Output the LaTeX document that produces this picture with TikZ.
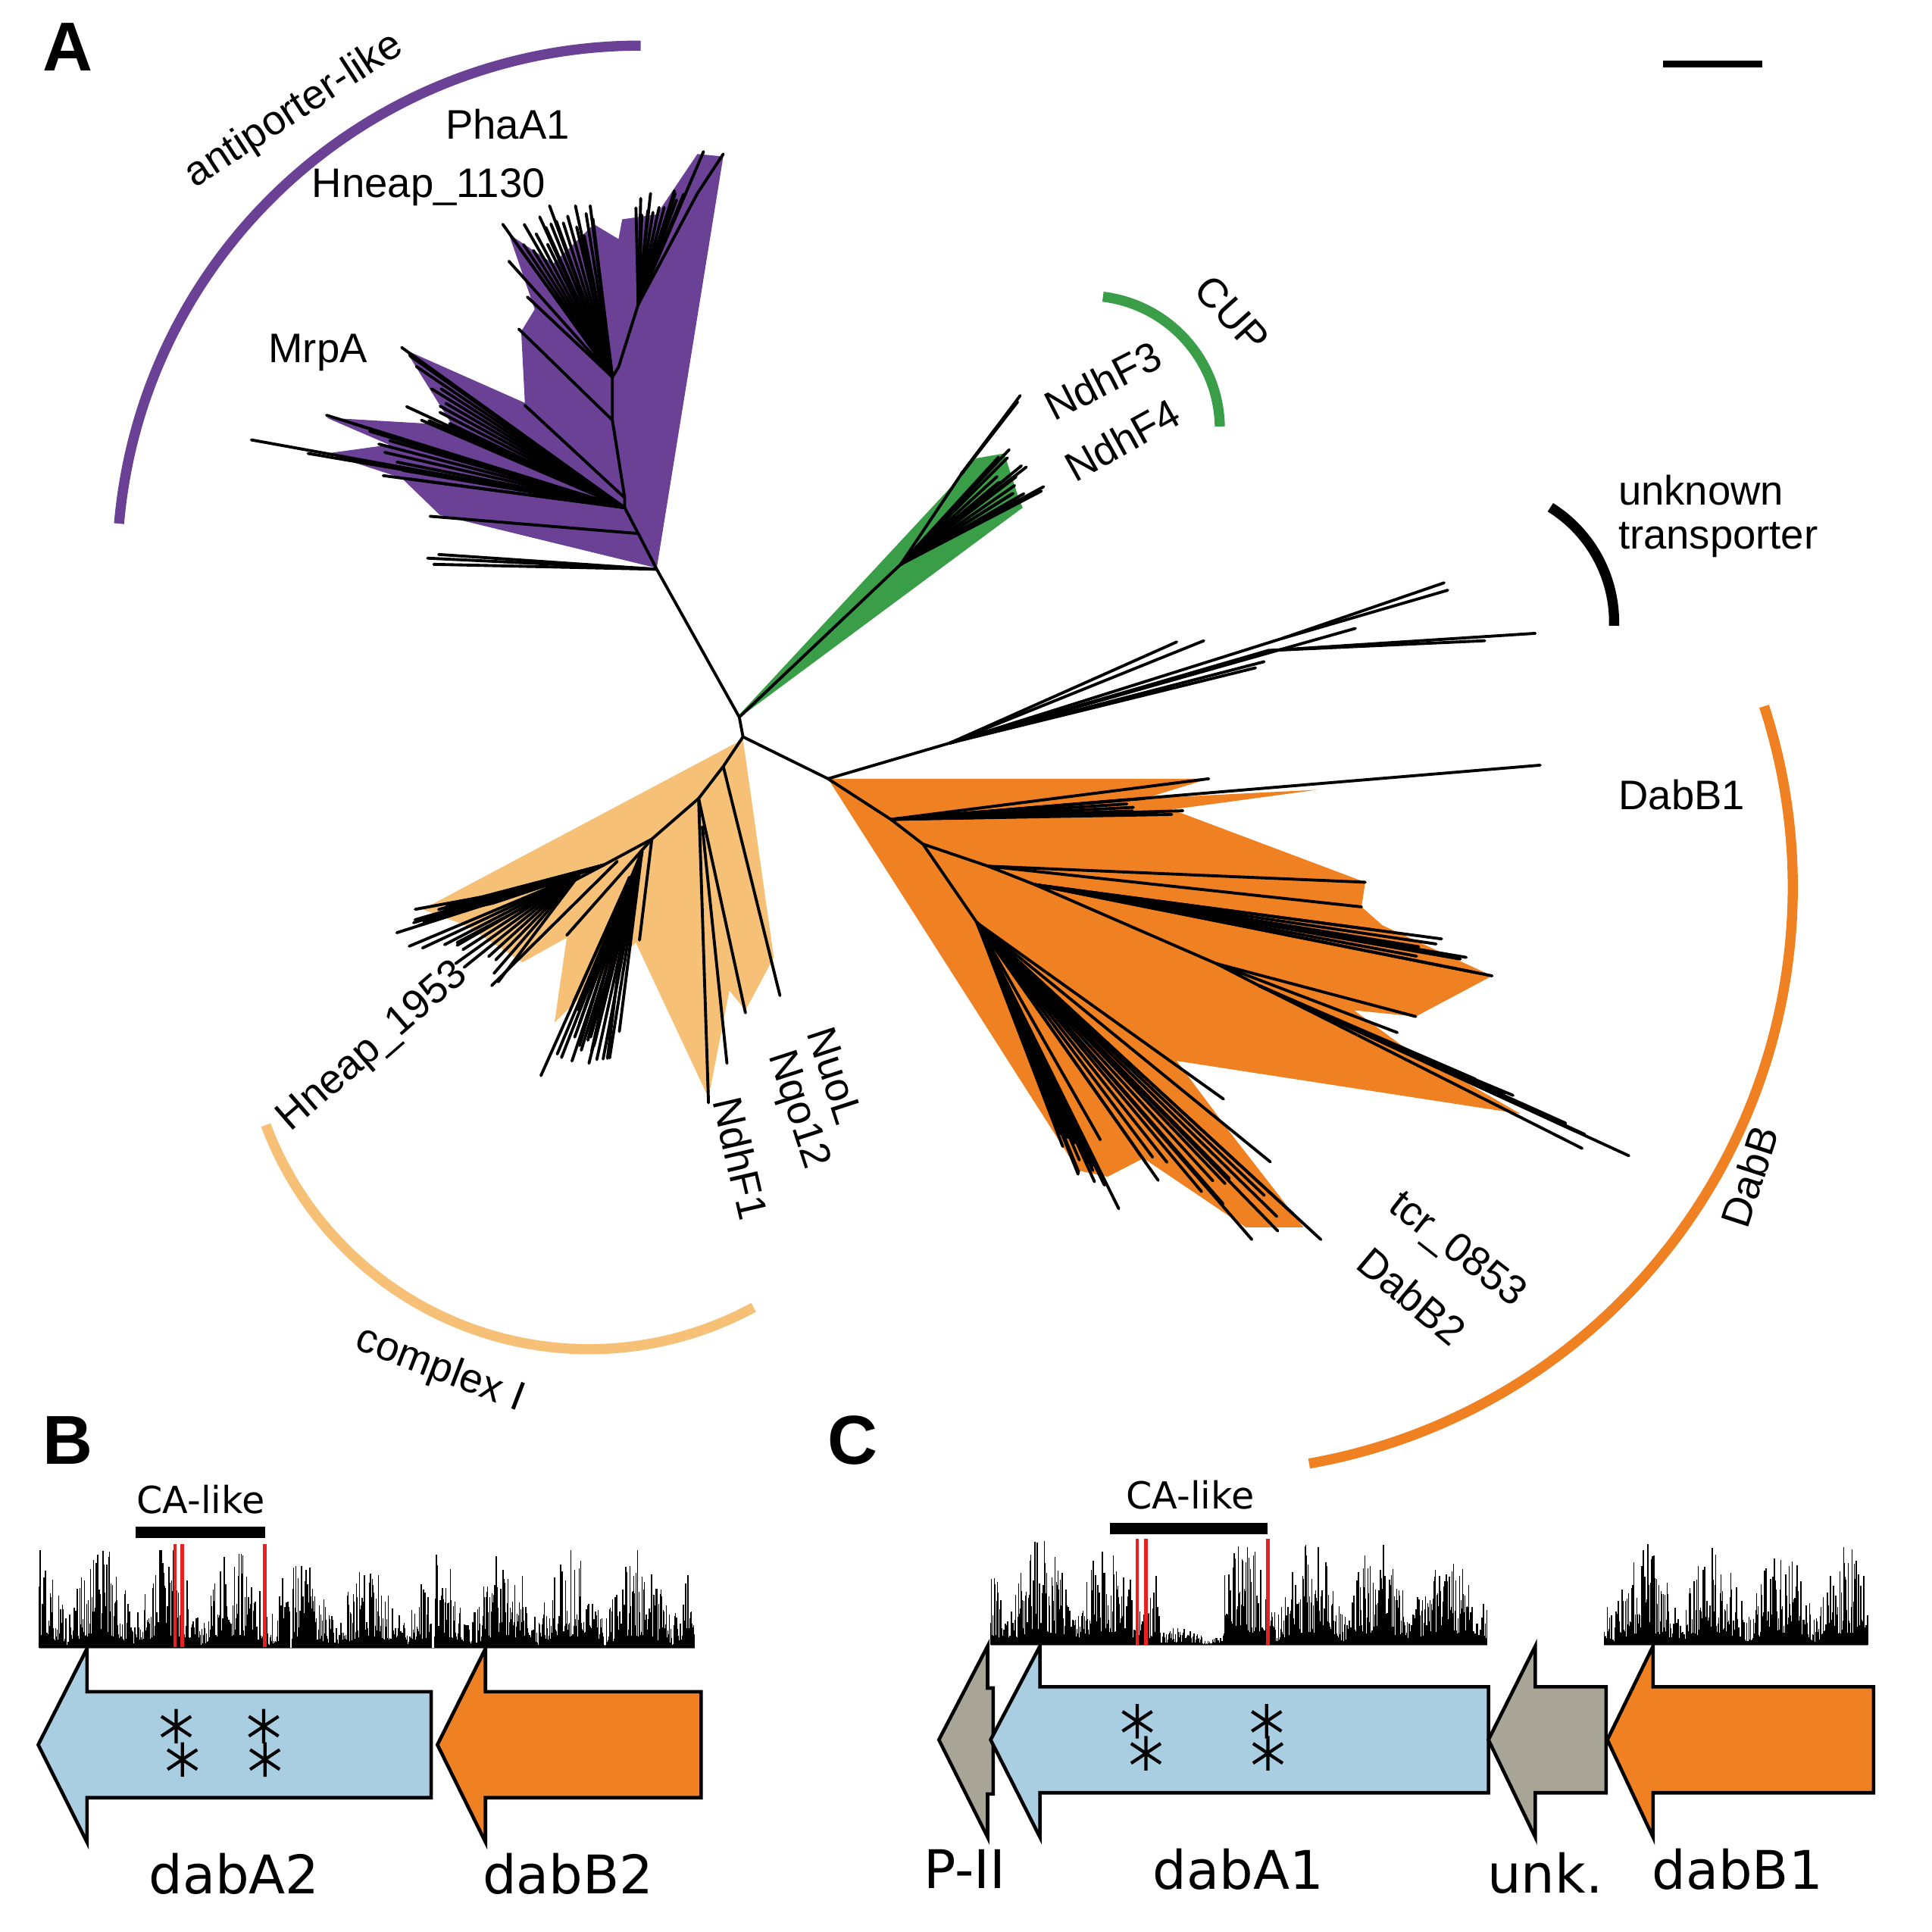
\documentclass[tikz,border=0pt]{standalone}
\usepackage{fontspec}
\setmainfont{Liberation Sans}
\newfontfamily\dvfont{DejaVu Sans}
\usetikzlibrary{calc}
\definecolor{cpurple}{RGB}{107,65,150}
\definecolor{cgreen}{RGB}{58,157,72}
\definecolor{cbeige}{RGB}{246,193,119}
\definecolor{corange}{RGB}{240,129,35}
\definecolor{cblue}{RGB}{169,206,225}
\definecolor{cgrey}{RGB}{168,165,150}
\definecolor{cred}{RGB}{232,32,32}
\tikzset{
  br/.style={line width=1.1pt, line cap=round},
  arcline/.style={line width=3.8pt},
  lbl/.style={font=\fontsize{15.5}{18}\selectfont, inner sep=0pt},
  panel/.style={font=\bfseries\fontsize{26}{28}\selectfont, inner sep=0pt},
  genelbl/.style={font=\dvfont\fontsize{20}{22}\selectfont, inner sep=0pt},
  calbl/.style={font=\dvfont\fontsize{14}{16}\selectfont, inner sep=0pt},
  gene/.style={draw=black, line width=1.3pt, line join=miter},
  hbar/.style={line width=0.4pt},
  astl/.style={line width=1.2pt},
  redl/.style={cred, line width=1.3pt},
}
\newcommand\fan[4]{%
  \foreach \k in {0,...,#4}{%
    \pgfmathsetmacro\fanT{\k/#4}%
    \pgfmathsetmacro\fanS{0.82+0.18*rnd}%
    \coordinate (fantmp) at ($#2!\fanT!#3$);
    \draw[br] #1 -- ($#1!\fanS!(fantmp)$);
  }}
\newcommand\histo[5]{%
  \foreach \xx in {#1,#2,...,#3}{%
    \pgfmathsetmacro\hh{#5*(0.12+0.88*rnd^1.9)*(0.25+0.75*abs(sin(\xx*3.3)))}%
    \draw[hbar] (\xx,#4) -- (\xx,#4-\hh);
  }}
\newcommand\astsym[1]{%
  \begin{scope}[shift={#1}]
    \draw[astl] (0,-14) -- (0,14) (-12,-8) -- (12,8) (-12,8) -- (12,-8);
  \end{scope}}
\begin{document}
\begin{tikzpicture}[x=0.016263cm,y=-0.016263cm]
\pgfmathsetseed{42}
\fill[white] (0,0) rectangle (1568,1568);
\useasboundingbox (0,0) rectangle (1568,1568);

% ---------------- Panel A ----------------
\node[panel] (lA) at (55,38) {A};
\coordinate (sb1) at (1350,52); \coordinate (sb2) at (1430,52);
\draw[line width=2.4pt] (sb1) -- (sb2);

% clade arcs
\draw[arcline, cpurple] (520,462) ++(-90:425) arc[start angle=-90, end angle=-175, radius=425];
\draw[arcline, cgreen] (882,348) ++(-83:108) arc[start angle=-83, end angle=-1, radius=108];
\draw[arcline, black] (1200,505) ++(-58:110) arc[start angle=-58, end angle=1.5, radius=110];
\draw[arcline, corange] (980,720) ++(-18:475) arc[start angle=-18, end angle=80, radius=475];
\draw[arcline, cbeige] (478,815) ++(159.5:280) arc[start angle=159.5, end angle=61.5, radius=280];

% clade fills
\fill[cpurple] (533,461) -- (357,418) -- (326,388) -- (265,368) -- (316,361) -- (265,339) -- (367,345) -- (329,284) -- (426,327) -- (423,269) -- (434,251) -- (413,190) -- (449,214) -- (482,182) -- (502,194) -- (505,178) -- (533,174) -- (566,125) -- (587,127) -- cycle;
\fill[cgreen] (600,580) -- (772,395) -- (792,372) -- (815,368) -- (827,405) -- (830,412) -- (606,578) -- cycle;
\fill[cbeige] (603,600) -- (343,738) -- (378,751) -- (424,781) -- (460,761) -- (450,830) -- (516,765) -- (575,891) -- (592,804) -- (605,820) -- (628,777) -- cycle;
\fill[corange] (672,632) -- (981,632) -- (929,648) -- (1069,641) -- (951,657) -- (1108,716) -- (1105,736) -- (1122,751) -- (1211,792) -- (1149,825) -- (1099,820) -- (1137,848) -- (1234,904) -- (955,861) -- (999,920) -- (1058,996) -- (1011,996) -- (928,940) -- (899,955) -- (875,950) -- cycle;

% central connectors
\coordinate (P0) at (533,462);
\coordinate (C1) at (600,582);
\coordinate (C2) at (603,598);
\coordinate (O0) at (672,632);
\draw[br] (P0) -- (C1) -- (C2) -- (O0);

% purple tree
\coordinate (P1) at (518,433); \coordinate (P2) at (507,412); \coordinate (P3) at (507,404);
\coordinate (P4) at (497,341); \coordinate (P5) at (497,306); \coordinate (P6) at (502,298);
\coordinate (P7) at (518,247); \coordinate (P8) at (566,157);
\draw[br] (P0) -- (P1) -- (P2) -- (P3) -- (P4) -- (P5) -- (P6) -- (P7) -- (P8) -- (587,125);
\draw[br] (P0) -- (347,453); \draw[br] (P0) -- (352,458); \draw[br] (P0) -- (356,450);
\draw[br] (P1) -- (349,419);
\foreach \t in {(326,282),(342,341),(265,337),(204,357),(250,368),(311,386),(300,350),(330,330)} {\draw[br] (P2) -- \t;}
\draw[br] (P3) -- (426,329);
\draw[br] (P4) -- (421,267);
\foreach \t in {(408,182),(438,176),(446,167),(467,167),(479,167),(413,212),(428,241)} {\draw[br] (P5) -- \t;}
\foreach \t in {(520,161),(528,157),(548,157),(571,123)} {\draw[br] (P7) -- \t;}
\fan{(P5)}{(410,185)}{(480,168)}{14}
\fan{(P2)}{(326,284)}{(345,340)}{8}
\fan{(P2)}{(268,338)}{(312,386)}{6}
\fan{(P7)}{(516,163)}{(560,145)}{8}

% green tree
\coordinate (G1) at (731,458); \coordinate (G2) at (780,385);
\draw[br] (C1) -- (G1) -- (G2) -- (828,321);
\foreach \t in {(819,365),(833,379),(829,378),(847,395),(821,401),(810,392)} {\draw[br] (G1) -- \t;}
\fan{(G1)}{(815,366)}{(850,396)}{8}
\fan{(G2)}{(810,345)}{(826,326)}{4}

% beige tree
\coordinate (B1) at (587,622); \coordinate (B2) at (567,648); \coordinate (B3) at (529,681);
\coordinate (B4) at (490,702); \coordinate (B5) at (445,718); \coordinate (B6) at (521,691);
\coordinate (B7) at (511,712);
\draw[br] (C2) -- (B1) -- (B2) -- (B3) -- (B4) -- (B5) -- (400,733) -- (345,745);
\draw[br] (B1) -- (633,808);
\draw[br] (B2) -- (605,822);
\draw[br] (B2) -- (575,895);
\draw[br] (570,671) -- (590,863);
\draw[br] (B3) -- (519,763);
\draw[br] (B6) -- (478,863);
\draw[br] (B7) -- (439,873);
\draw[br] (B7) -- (493,859);
\draw[br] (B3) -- (460,759);
\draw[br] (501,699) -- (399,800);
\draw[br] (B4) -- (371,765);
\draw[br] (470,710) -- (322,757);
\draw[br] (B5) -- (337,738);
\fan{(B4)}{(322,757)}{(345,740)}{10}
\fan{(470,710)}{(332,768)}{(402,800)}{10}
\fan{(B6)}{(447,868)}{(500,858)}{10}
\fan{(B7)}{(458,830)}{(478,863)}{5}

% orange tree
\coordinate (O1) at (723,665); \coordinate (O2) at (749,685); \coordinate (O3) at (793,749);
\coordinate (S1) at (802,703); \coordinate (S2) at (840,718); \coordinate (S3) at (987,782);
\coordinate (S4) at (1022,800); \coordinate (S5) at (1058,818);
\draw[br] (O0) -- (O1) -- (O2) -- (O3);
\foreach \t in {(981,632),(1250,621),(951,661),(929,648),(960,658)} {\draw[br] (O1) -- \t;}
\draw[br] (O2) -- (S1) -- (S2) -- (S3) -- (S4) -- (S5) -- (1284,932);
\draw[br] (S1) -- (1108,716); \draw[br] (S1) -- (1105,736);
\foreach \t in {(1170,762),(1190,777),(1211,792)} {\draw[br] (S2) -- \t;}
\draw[br] (S3) -- (1149,825); \draw[br] (S3) -- (1134,838);
\draw[br] (S4) -- (1322,938);
\draw[br] (S5) -- (1228,889);
\foreach \t in {(993,892),(1031,943),(1072,1006),(1016,1006),(1037,999),(940,958),(908,981),(875,953),(887,950),(893,925)} {\draw[br] (O3) -- \t;}
\fan{(O3)}{(870,950)}{(905,975)}{10}
\fan{(O3)}{(940,958)}{(1072,1006)}{10}
\fan{(S4)}{(1228,889)}{(1322,938)}{6}
\fan{(S2)}{(1170,762)}{(1211,792)}{5}
\fan{(O1)}{(929,648)}{(960,660)}{4}

% unknown transporter clade
\coordinate (U1) at (771,603); \coordinate (U2) at (1041,518); \coordinate (U3) at (1029,528);
\draw[br] (O0) -- (U1);
\draw[br] (U1) -- (955,521); \draw[br] (U1) -- (977,520);
\draw[br] (U1) -- (U2) -- (1172,473); \draw[br] (U2) -- (1175,479);
\draw[br] (U1) -- (1026,537); \draw[br] (U1) -- (1019,542);
\draw[br] (U1) -- (U3) -- (1246,514); \draw[br] (U3) -- (1205,520);
\draw[br] (U1) -- (1100,510);

% labels
\node[lbl, rotate=33] (antip) at (239,90) {antiporter-like};
\node[lbl] (phaa1) at (412,101) {PhaA1};
\node[lbl] (hn1130) at (348,152) {Hneap\_1130};
\node[lbl] (mrpa) at (258,286) {MrpA};
\node[lbl, rotate=-48] (cup) at (1000,255) {CUP};
\node[lbl, rotate=27] (ndhf3) at (895,309) {NdhF3};
\node[lbl, rotate=29] (ndhf4) at (911,357) {NdhF4};
\node[lbl, anchor=west] (unk1) at (1313,398) {unknown};
\node[lbl, anchor=west] (unk2) at (1313,438) {transporter};
\node[lbl] (dabb1) at (1365,645) {DabB1};
\node[lbl, rotate=72] (dabb) at (1420,955) {DabB};
\node[lbl, rotate=-38] (tcr) at (1182,1015) {tcr\_0853};
\node[lbl, rotate=-40] (dabb2l) at (1146,1052) {DabB2};
\node[lbl, rotate=41] (hn1953) at (303,850) {Hneap\_1953};
\node[lbl, rotate=-72] (nuol) at (678,873) {NuoL};
\node[lbl, rotate=-72] (nqo) at (647,901) {Nqo12};
\node[lbl, rotate=-77] (ndhf1) at (601,940) {NdhF1};
\node[lbl, rotate=-21] (cplx) at (357,1112) {complex I};

% ---------------- Panel B ----------------
\node[panel] (lB) at (55,1169) {B};
\node[calbl] (caB) at (163,1217) {CA-like};
\fill (110,1239) rectangle (215,1248);
\histo{32}{32.6}{235}{1337.7}{85}
\histo{237}{237.6}{350}{1337.7}{72}
\histo{353}{353.6}{564}{1337.7}{80}
\draw[gray, line width=0.3pt] (32,1337.7) -- (564,1337.7);
\draw[redl] (142,1253) -- (142,1337); \draw[redl] (148,1253) -- (148,1337); \draw[redl] (215,1253) -- (215,1337);
\draw[gene, fill=cblue] (350,1373) -- (70.6,1373) -- (70.6,1338) -- (31,1416) -- (70.6,1495) -- (70.6,1459) -- (350,1459) -- cycle;
\draw[gene, fill=corange] (569,1373) -- (394,1373) -- (394,1338) -- (355,1416) -- (394,1495) -- (394,1459) -- (569,1459) -- cycle;
\astsym{(143,1401)} \astsym{(148,1428)} \astsym{(214,1401)} \astsym{(215,1428)}
\node[genelbl] (gA2) at (190,1521) {dabA2};
\node[genelbl] (gB2) at (461,1521) {dabB2};

% ---------------- Panel C ----------------
\node[panel] (lC) at (692,1169) {C};
\node[calbl] (caC) at (966,1213) {CA-like};
\fill (901,1236) rectangle (1029,1245);
\histo{804}{804.6}{942}{1335}{87}
\histo{942.6}{943.2}{992}{1335}{14}
\histo{992.6}{993.2}{1207}{1335}{85}
\histo{1302}{1302.6}{1516}{1335}{82}
\draw[gray, line width=0.3pt] (804,1335) -- (1207,1335) (1302,1335) -- (1516,1335);
\draw[redl] (923,1249) -- (923,1335); \draw[redl] (930,1249) -- (930,1335); \draw[redl] (1029,1249) -- (1029,1335);
\draw[gene, fill=cgrey] (806,1370) -- (801.5,1370) -- (801.5,1336) -- (762,1412) -- (801.5,1491) -- (801.5,1456) -- (806,1456) -- cycle;
\draw[gene, fill=cblue] (1208,1369) -- (844,1369) -- (844,1336) -- (804,1412) -- (844,1491) -- (844,1455) -- (1208,1455) -- cycle;
\draw[gene, fill=cgrey] (1303.5,1369) -- (1246,1369) -- (1246,1336) -- (1208,1412) -- (1246,1491) -- (1246,1455) -- (1303.5,1455) -- cycle;
\draw[gene, fill=corange] (1520.6,1369) -- (1341.6,1369) -- (1341.6,1336) -- (1304.5,1412) -- (1341.6,1491) -- (1341.6,1455) -- (1520.6,1455) -- cycle;
\astsym{(923,1397)} \astsym{(930,1423)} \astsym{(1028,1397)} \astsym{(1029,1423)}
\node[genelbl] (gP) at (783,1517) {P-II};
\node[genelbl] (gA1) at (1005,1517) {dabA1};
\node[genelbl] (gU) at (1254,1520) {unk.};
\node[genelbl] (gB1) at (1410,1517) {dabB1};
\end{tikzpicture}
\end{document}
